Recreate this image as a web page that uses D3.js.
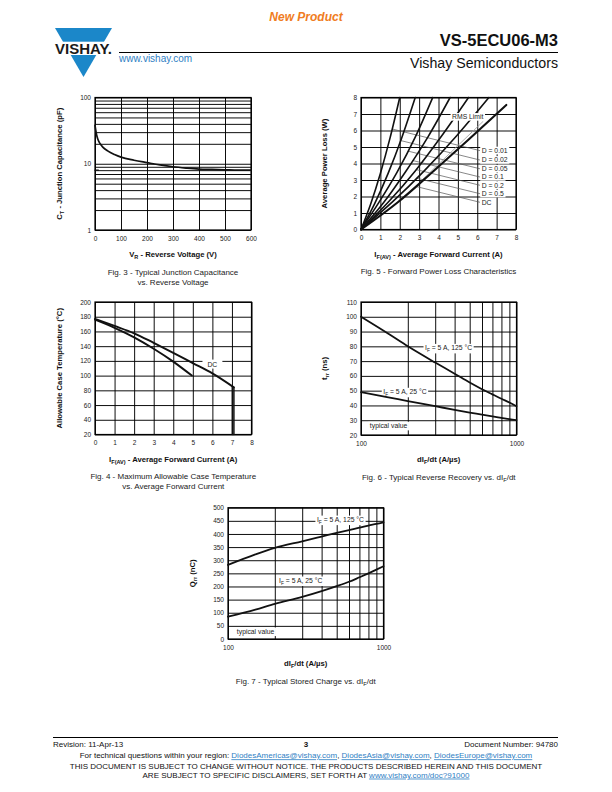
<!DOCTYPE html>
<html><head><meta charset="utf-8">
<script src="https://cdn.jsdelivr.net/npm/d3@7"></script>
<style>
html,body{margin:0;padding:0;background:#fff;}
svg{display:block;}
</style></head><body>
<svg id="page" width="612" height="792"></svg>
<script>
// ================= DATA =================
// Fig. 3 - Typical Junction Capacitance vs. Reverse Voltage
const fig3VR = [0, 3, 6, 10, 15, 20, 30, 50, 75, 100, 150, 200, 250, 300, 350, 400, 450, 500, 550, 600];
const fig3CT = [38, 32, 27.5, 24, 21.5, 20, 17.8, 15.5, 13.8, 12.6, 11.3, 10.4, 9.6, 9.0, 8.6, 8.3, 8.2, 8.1, 8.0, 8.0];
const fig3DashVR = [0, 13];
const fig3DashCT = [8.0, 8.0];
const fig3XTicks = [0, 100, 200, 300, 400, 500, 600];
const fig3YTicks = [1, 10, 100];

// Fig. 5 - Forward Power Loss Characteristics
const fig5Names = ["D = 0.01", "D = 0.02", "D = 0.05", "D = 0.1", "D = 0.2", "D = 0.5", "DC"];
const fig5CurveI = [
  [0, 0.5, 1.0, 1.5, 2.0],
  [0, 0.7, 1.4, 2.1, 2.8],
  [0, 0.9, 1.85, 2.8, 3.7],
  [0, 1.15, 2.3, 3.45, 4.6],
  [0, 1.4, 2.8, 4.15, 5.55],
  [0, 1.65, 3.3, 4.95, 6.6],
  [0, 1.9, 3.75, 5.6, 7.5]
];
const fig5CurveP = [
  [0, 1.55, 3.4, 5.55, 8],
  [0, 1.55, 3.4, 5.55, 8],
  [0, 1.6, 3.45, 5.6, 8],
  [0, 1.6, 3.5, 5.6, 8],
  [0, 1.65, 3.55, 5.65, 8],
  [0, 1.7, 3.6, 5.7, 8],
  [0, 1.65, 3.55, 5.5, 7.55]
];
const fig5LeaderStart = [[1.61, 6.09], [2.05, 5.39], [2.43, 4.75], [2.67, 4.18], [2.85, 3.63], [2.87, 3.11], [2.83, 2.61]];
const fig5LeaderEnd = [[6.14, 4.78], [6.14, 4.21], [6.14, 3.68], [6.14, 3.18], [6.14, 2.68], [6.14, 2.17], [6.14, 1.65]];
const fig5LabelI = 6.23;
const fig5RMSLine = [[3.13, 2.98], [6.31, 6.56]];
const fig5RMSLabel = [4.7, 6.82];
const fig5Ticks = [0, 1, 2, 3, 4, 5, 6, 7, 8];

// Fig. 4 - Maximum Allowable Case Temperature vs. Average Forward Current
const fig4DCI = [0, 1, 2, 3, 4, 5, 6, 7.1];
const fig4DCT = [177, 167.5, 157.5, 144.5, 131, 117, 103, 84];
const fig4SqI = [0, 1, 2, 3, 4, 4.95];
const fig4SqT = [176, 165, 152, 136.5, 119, 100];
const fig4DropI = [7.02, 7.1];
const fig4DropTopT = [85, 84];
const fig4DCLabel = [6.0, 115.5];
const fig4XTicks = [0, 1, 2, 3, 4, 5, 6, 7, 8];
const fig4YTicks = [20, 40, 60, 80, 100, 120, 140, 160, 180, 200];

// Fig. 6 - Typical Reverse Recovery vs. dIF/dt
const fig6X = [100, 150, 200, 300, 400, 500, 600, 700, 800, 900, 1000];
const fig6T125 = [100, 88.5, 80, 69, 61.5, 55.5, 51, 47.5, 44.5, 42, 39.5];
const fig6T25 = [49, 45.5, 43, 39.5, 37, 35.2, 33.8, 32.6, 31.6, 30.7, 30];
const fig6Lab125 = [258, 79];
const fig6Lab25 = [139, 49.3];
const fig6LabTyp = [114, 26.3];
const fig6YTicks = [20, 30, 40, 50, 60, 70, 80, 90, 100, 110];

// Fig. 7 - Typical Stored Charge vs. dIF/dt
const fig7X = [100, 150, 200, 300, 400, 500, 600, 700, 800, 900, 1000];
const fig7Q125 = [282, 322, 347, 372, 390, 404, 415, 424, 432, 438, 444];
const fig7Q25 = [85, 112, 134, 160, 182, 201, 218, 235, 250, 264, 277];
const fig7Lab125 = [373, 455];
const fig7Lab25 = [213, 223];
const fig7LabTyp = [114, 29];
const fig7YTicks = [0, 50, 100, 150, 200, 250, 300, 350, 400, 450, 500];

const logXTicks = [100, 1000];
const logGrid = [100, 200, 300, 400, 500, 600, 700, 800, 900, 1000];
const capGrid = [1, 2, 3, 4, 5, 6, 7, 8, 9, 10, 20, 30, 40, 50, 60, 70, 80, 90, 100];

// ================= DRAWING =================
const FONT = '"Liberation Sans", Arial, Helvetica, sans-serif';
const FS_TICK = 6.5, FS_TITLE = 7.7, FS_CAP = 8, FS_ANN = 6.8;
const svg = d3.select("#page").attr("font-family", FONT);
const zip = (a, b) => a.map((v, i) => [v, b[i]]);

function richText(sel, parts, fs) {
  let shifted = false;
  parts.forEach(p => {
    const isSub = typeof p !== "string";
    const t = sel.append("tspan").text(isSub ? p.sub : p);
    if (isSub) { t.attr("font-size", fs * 0.72).attr("dy", fs * 0.28); shifted = true; }
    else if (shifted) { t.attr("dy", -fs * 0.28); shifted = false; }
  });
}

function drawPanel(o) {
  const g = svg.append("g");
  const x = o.x, y = o.y;
  const X0 = x.range()[0], X1 = x.range()[1];
  const YB = y.range()[0], YT = y.range()[1];
  const W = X1 - X0, H = YB - YT;
  g.append("g").attr("transform", `translate(0,${YB})`)
    .call(d3.axisBottom(x).tickValues(o.gridX).tickSize(-H).tickFormat(""))
    .call(s => s.select(".domain").remove())
    .selectAll("line").attr("stroke", "#000").attr("stroke-width", 0.95);
  g.append("g").attr("transform", `translate(${X0},0)`)
    .call(d3.axisLeft(y).tickValues(o.gridY).tickSize(-W).tickFormat(""))
    .call(s => s.select(".domain").remove())
    .selectAll("line").attr("stroke", "#000").attr("stroke-width", 0.95);
  g.append("rect").attr("x", X0).attr("y", YT).attr("width", W).attr("height", H)
    .attr("fill", "none").attr("stroke", "#000").attr("stroke-width", 1.2);
  const xa = g.append("g").attr("transform", `translate(0,${YB})`)
    .call(d3.axisBottom(x).tickValues(o.xTicks).tickSize(0).tickFormat(d => String(d)));
  xa.select(".domain").remove();
  xa.selectAll("text").attr("y", 8.5).attr("dy", "0.35em").attr("font-size", FS_TICK)
    .attr("font-family", FONT).attr("fill", "#222");
  const ya = g.append("g").attr("transform", `translate(${X0},0)`)
    .call(d3.axisLeft(y).tickValues(o.yTicks).tickSize(0).tickPadding(4).tickFormat(d => String(d)));
  ya.select(".domain").remove();
  ya.selectAll("text").attr("font-size", FS_TICK).attr("font-family", FONT).attr("fill", "#222");
  const cx = (X0 + X1) / 2;
  const xt = g.append("text").attr("x", cx).attr("y", YB + 24.5 + 0.35 * FS_TITLE)
    .attr("text-anchor", "middle").attr("font-size", FS_TITLE).attr("font-weight", "bold").attr("fill", "#111");
  richText(xt, o.xTitle, FS_TITLE);
  const yt = g.append("text")
    .attr("transform", `translate(${o.yTitleX + 0.35 * FS_TITLE},${(YT + YB) / 2}) rotate(-90)`)
    .attr("text-anchor", "middle").attr("font-size", FS_TITLE).attr("font-weight", "bold").attr("fill", "#111");
  richText(yt, o.yTitle, FS_TITLE);
  o.caption.forEach((c, i) => {
    const t = g.append("text").attr("x", cx).attr("y", YB + 42 + i * 10 + 0.35 * FS_CAP)
      .attr("text-anchor", "middle").attr("font-size", FS_CAP).attr("fill", "#222");
    richText(t, c, FS_CAP);
  });
  g.ann = g.append("g");
  g.plot = g.append("g").attr("fill", "none").attr("stroke", "#111").attr("stroke-linecap", "round").attr("stroke-linejoin", "round");
  g.top = g.append("g");
  return g;
}

function bgLabel(layer, parts, px, py, opt = {}) {
  const fs = opt.fs || FS_ANN;
  const t = layer.append("text").attr("x", px).attr("y", py + 0.35 * fs)
    .attr("font-size", fs).attr("fill", "#222").attr("text-anchor", opt.anchor || "start");
  richText(t, parts, fs);
  const b = t.node().getBBox();
  const padX = opt.padX ?? 1.5, padY = opt.padY ?? 0.3;
  layer.insert("rect", () => t.node()).attr("x", b.x - padX).attr("y", b.y - padY)
    .attr("width", b.width + 2 * padX).attr("height", b.height + 2 * padY).attr("fill", "#fff");
}

// ---------- Fig. 3 ----------
{
  const x = d3.scaleLinear().domain([0, 600]).range([95, 251]);
  const y = d3.scaleLog().domain([1, 100]).range([230, 97.5]);
  const g = drawPanel({ x, y, gridX: fig3XTicks, gridY: capGrid, xTicks: fig3XTicks, yTicks: fig3YTicks,
    xTitle: ["V", { sub: "R" }, " - Reverse Voltage (V)"],
    yTitle: ["C", { sub: "T" }, " - Junction Capacitance (pF)"], yTitleX: 59,
    caption: [["Fig. 3 - Typical Junction Capacitance"], ["vs. Reverse Voltage"]] });
  const line = d3.line().x(d => x(d[0])).y(d => y(d[1])).curve(d3.curveMonotoneX);
  g.plot.append("path").attr("d", line(zip(fig3VR, fig3CT))).attr("stroke-width", 1.7);
  g.plot.append("path").attr("d", d3.line().x(d => x(d[0])).y(d => y(d[1]))(zip(fig3DashVR, fig3DashCT))).attr("stroke-width", 1.4);
}

// ---------- Fig. 5 ----------
{
  const x = d3.scaleLinear().domain([0, 8]).range([361, 516]);
  const y = d3.scaleLinear().domain([0, 8]).range([229.5, 97.5]);
  const g = drawPanel({ x, y, gridX: fig5Ticks, gridY: fig5Ticks, xTicks: fig5Ticks, yTicks: fig5Ticks,
    xTitle: ["I", { sub: "F(AV)" }, " - Average Forward Current (A)"],
    yTitle: ["Average Power Loss (W)"], yTitleX: 324,
    caption: [["Fig. 5 - Forward Power Loss Characteristics"]] });
  const straight = d3.line().x(d => x(d[0])).y(d => y(d[1]));
  fig5LeaderStart.forEach((s, i) => {
    g.ann.append("path").attr("d", straight([s, fig5LeaderEnd[i]])).attr("stroke", "#555").attr("stroke-width", 0.7).attr("fill", "none");
  });
  g.ann.append("path").attr("d", straight(fig5RMSLine)).attr("stroke", "#999").attr("stroke-width", 0.8).attr("fill", "none");
  const line = d3.line().x(d => x(d[0])).y(d => y(d[1])).curve(d3.curveMonotoneX);
  fig5CurveI.forEach((arr, i) => {
    g.plot.append("path").attr("d", line(zip(arr, fig5CurveP[i]))).attr("stroke-width", i === 6 ? 2.1 : 1.6);
  });
  fig5Names.forEach((n, i) => bgLabel(g.top, [n], x(fig5LabelI), y(fig5LeaderEnd[i][1])));
  bgLabel(g.top, ["RMS Limit"], x(fig5RMSLabel[0]), y(fig5RMSLabel[1]));
}

// ---------- Fig. 4 ----------
{
  const x = d3.scaleLinear().domain([0, 8]).range([95, 251.5]);
  const y = d3.scaleLinear().domain([20, 200]).range([434.5, 302]);
  const g = drawPanel({ x, y, gridX: fig4XTicks, gridY: fig4YTicks, xTicks: fig4XTicks, yTicks: fig4YTicks,
    xTitle: ["I", { sub: "F(AV)" }, " - Average Forward Current (A)"],
    yTitle: ["Allowable Case Temperature (°C)"], yTitleX: 59,
    caption: [["Fig. 4 - Maximum Allowable Case Temperature"], ["vs. Average Forward Current"]] });
  bgLabel(g.ann, ["DC"], x(fig4DCLabel[0]), y(fig4DCLabel[1]), { anchor: "middle", padX: 5, padY: 1 });
  const line = d3.line().x(d => x(d[0])).y(d => y(d[1])).curve(d3.curveMonotoneX);
  g.plot.append("path").attr("d", line(zip(fig4DCI, fig4DCT))).attr("stroke-width", 1.9);
  g.plot.append("path").attr("d", line(zip(fig4SqI, fig4SqT))).attr("stroke-width", 1.9);
  fig4DropI.forEach((v, i) => {
    g.plot.append("line").attr("x1", x(v)).attr("x2", x(v)).attr("y1", y(fig4DropTopT[i])).attr("y2", y(20)).attr("stroke-width", 1.5);
  });
}

// ---------- Fig. 6 ----------
{
  const x = d3.scaleLog().domain([100, 1000]).range([361, 516.5]);
  const y = d3.scaleLinear().domain([20, 110]).range([435, 302]);
  const g = drawPanel({ x, y, gridX: logGrid, gridY: fig6YTicks, xTicks: logXTicks, yTicks: fig6YTicks,
    xTitle: ["dI", { sub: "F" }, "/dt (A/µs)"],
    yTitle: ["t", { sub: "rr" }, " (ns)"], yTitleX: 324,
    caption: [["Fig. 6 - Typical Reverse Recovery vs. dI", { sub: "F" }, "/dt"]] });
  bgLabel(g.ann, ["I", { sub: "F" }, " = 5 A, 125 °C"], x(fig6Lab125[0]), y(fig6Lab125[1]));
  bgLabel(g.ann, ["I", { sub: "F" }, " = 5 A, 25 °C"], x(fig6Lab25[0]), y(fig6Lab25[1]));
  bgLabel(g.ann, ["typical value"], x(fig6LabTyp[0]), y(fig6LabTyp[1]));
  const line = d3.line().x(d => x(d[0])).y(d => y(d[1])).curve(d3.curveMonotoneX);
  g.plot.append("path").attr("d", line(zip(fig6X, fig6T125))).attr("stroke-width", 1.8);
  g.plot.append("path").attr("d", line(zip(fig6X, fig6T25))).attr("stroke-width", 1.8);
}

// ---------- Fig. 7 ----------
{
  const x = d3.scaleLog().domain([100, 1000]).range([228, 383.5]);
  const y = d3.scaleLinear().domain([0, 500]).range([639, 507.7]);
  const g = drawPanel({ x, y, gridX: logGrid, gridY: fig7YTicks, xTicks: logXTicks, yTicks: fig7YTicks,
    xTitle: ["dI", { sub: "F" }, "/dt (A/µs)"],
    yTitle: ["Q", { sub: "rr" }, " (nC)"], yTitleX: 192,
    caption: [["Fig. 7 - Typical Stored Charge vs. dI", { sub: "F" }, "/dt"]] });
  bgLabel(g.ann, ["I", { sub: "F" }, " = 5 A, 125 °C"], x(fig7Lab125[0]), y(fig7Lab125[1]));
  bgLabel(g.ann, ["I", { sub: "F" }, " = 5 A, 25 °C"], x(fig7Lab25[0]), y(fig7Lab25[1]));
  bgLabel(g.ann, ["typical value"], x(fig7LabTyp[0]), y(fig7LabTyp[1]));
  const line = d3.line().x(d => x(d[0])).y(d => y(d[1])).curve(d3.curveMonotoneX);
  g.plot.append("path").attr("d", line(zip(fig7X, fig7Q125))).attr("stroke-width", 1.8);
  g.plot.append("path").attr("d", line(zip(fig7X, fig7Q25))).attr("stroke-width", 1.8);
}

// ---------- Header ----------
const BLUE = "#1b87c9", LINK = "#2f80c4";
svg.append("text").attr("x", 306).attr("y", 21.2).attr("text-anchor", "middle").attr("font-size", 12)
  .attr("font-weight", "bold").attr("font-style", "italic").attr("fill", "#f07c22").text("New Product");
svg.append("polygon").attr("points", "55,28 112,28 83.5,77").attr("fill", BLUE);
svg.append("rect").attr("x", 50).attr("y", 41.7).attr("width", 68).attr("height", 13.3).attr("fill", "#fff");
svg.append("text").attr("x", 83.5).attr("y", 54.3).attr("text-anchor", "middle").attr("font-size", 14)
  .attr("font-weight", "bold").attr("fill", "#1a1a1a").attr("textLength", 57).attr("lengthAdjust", "spacingAndGlyphs").text("VISHAY.");
svg.append("text").attr("x", 558).attr("y", 46).attr("text-anchor", "end").attr("font-size", 16.5)
  .attr("font-weight", "bold").attr("fill", "#111").text("VS-5ECU06-M3");
svg.append("line").attr("x1", 119).attr("x2", 558).attr("y1", 52.5).attr("y2", 52.5).attr("stroke", "#000").attr("stroke-width", 1);
svg.append("text").attr("x", 119).attr("y", 61.5).attr("font-size", 10).attr("fill", LINK).text("www.vishay.com");
svg.append("text").attr("x", 558).attr("y", 67.5).attr("text-anchor", "end").attr("font-size", 14.2)
  .attr("fill", "#111").text("Vishay Semiconductors");

// ---------- Footer ----------
svg.append("line").attr("x1", 53).attr("x2", 558).attr("y1", 737.5).attr("y2", 737.5).attr("stroke", "#000").attr("stroke-width", 1);
svg.append("text").attr("x", 53).attr("y", 746.5).attr("font-size", 8).attr("fill", "#111").text("Revision: 11-Apr-13");
svg.append("text").attr("x", 306).attr("y", 747).attr("text-anchor", "middle").attr("font-size", 8).attr("font-weight", "bold").attr("fill", "#111").text("3");
svg.append("text").attr("x", 558).attr("y", 746.5).attr("text-anchor", "end").attr("font-size", 8).attr("fill", "#111").text("Document Number: 94780");
function footLine(y, parts) {
  const t = svg.append("text").attr("x", 306).attr("y", y).attr("text-anchor", "middle").attr("font-size", 8).attr("fill", "#111");
  parts.forEach(p => {
    const s = t.append("tspan").text(p.t);
    if (p.link) s.attr("fill", LINK).attr("text-decoration", "underline").style("text-decoration", "underline");
  });
}
footLine(758.3, [{ t: "For technical questions within your region: " }, { t: "DiodesAmericas@vishay.com", link: 1 }, { t: ", " },
  { t: "DiodesAsia@vishay.com", link: 1 }, { t: ", " }, { t: "DiodesEurope@vishay.com", link: 1 }]);
footLine(769.3, [{ t: "THIS DOCUMENT IS SUBJECT TO CHANGE WITHOUT NOTICE. THE PRODUCTS DESCRIBED HEREIN AND THIS DOCUMENT" }]);
footLine(777.6, [{ t: "ARE SUBJECT TO SPECIFIC DISCLAIMERS, SET FORTH AT " }, { t: "www.vishay.com/doc?91000", link: 1 }]);
</script>
</body></html>
